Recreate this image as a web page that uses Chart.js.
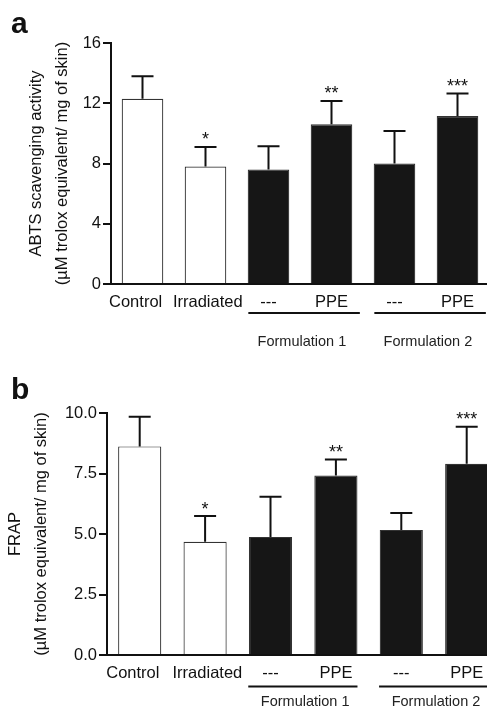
<!DOCTYPE html>
<html>
<head>
<meta charset="utf-8">
<script src="https://cdn.jsdelivr.net/npm/chart.js@4.4.1/dist/chart.umd.min.js"></script>
<style>
  html, body { margin: 0; padding: 0; overflow: hidden; background: #fff; width: 487px; height: 709px; }
  canvas { position: absolute; left: 0; }
  #panel-a { top: 0; }
  #panel-b { top: 355px; }
</style>
</head>
<body>
<canvas id="panel-a" width="490" height="355"></canvas>
<canvas id="panel-b" width="500" height="354"></canvas>
<script>
const categories = ['Control', 'Irradiated', '---', 'PPE', '---', 'PPE'];
const formulations = ['Formulation 1', 'Formulation 2'];
const formulationBars = [[2, 3], [4, 5]];

const abtsMean = [12.3, 7.8, 7.6, 10.6, 8.0, 11.15];
const abtsSem = [1.5, 1.3, 1.55, 1.55, 2.15, 1.5];
const abtsStars = ['', '*', '', '**', '', '***'];

const frapMean = [8.62, 4.68, 4.88, 7.42, 5.17, 7.9];
const frapSem = [1.23, 1.06, 1.66, 0.66, 0.7, 1.53];
const frapStars = ['', '*', '', '**', '', '***'];

const FONT = 'Liberation Sans, Arial, Helvetica, sans-serif';
const INK = '#111';

// the first two labels sit a little off their bars in the original
function labelText(i) {
  const t = categories[i];
  if (i === 0) return t + '   ';
  if (i === 1) return ' ' + t;
  return t;
}

function makePanel(id, means, sems, stars, cfg) {
  const extras = {
    id: 'extras',
    afterDatasetsDraw(chart) {
      const {ctx, chartArea, scales: {x, y}} = chart;
      const bars = chart.getDatasetMeta(0).data;
      ctx.save();
      ctx.strokeStyle = INK;
      ctx.fillStyle = INK;
      ctx.lineWidth = 2;
      // error bars (upper only) + significance stars
      bars.forEach((bar, i) => {
        const top = y.getPixelForValue(means[i] + sems[i]);
        ctx.beginPath();
        ctx.moveTo(bar.x, bar.y);
        ctx.lineTo(bar.x, top);
        ctx.moveTo(bar.x - 11, top);
        ctx.lineTo(bar.x + 11, top);
        ctx.stroke();
        if (stars[i]) {
          ctx.font = '18px ' + FONT;
          ctx.textAlign = 'center';
          ctx.textBaseline = 'alphabetic';
          ctx.fillText(stars[i], bar.x, top - 1.5);
        }
      });
      // formulation brackets
      formulationBars.forEach((pair, g) => {
        const x0 = x.getPixelForValue(pair[0] + cfg.bracket[0]);
        const x1 = x.getPixelForValue(pair[1] + cfg.bracket[1]);
        const ly = chartArea.bottom + cfg.lineGap;
        ctx.beginPath();
        ctx.moveTo(x0, ly);
        ctx.lineTo(x1, ly);
        ctx.stroke();
        ctx.font = '14.5px ' + FONT;
        ctx.textAlign = 'center';
        ctx.textBaseline = 'middle';
        ctx.fillStyle = '#222';
        ctx.fillText(formulations[g], x.getPixelForValue(pair[0] + 0.53), chartArea.bottom + cfg.textGap);
        ctx.fillStyle = INK;
      });
      // panel letter
      ctx.font = 'bold 30px ' + FONT;
      ctx.textAlign = 'left';
      ctx.textBaseline = 'alphabetic';
      ctx.fillText(cfg.letter, 11, cfg.letterY);
      ctx.restore();
    }
  };

  return new Chart(document.getElementById(id), {
    type: 'bar',
    data: {
      labels: categories,
      datasets: [{
        data: means,
        backgroundColor: c => c.dataIndex < 2 ? '#ffffff' : '#161616',
        borderColor: '#333',
        borderWidth: 1.2,
        barPercentage: 0.66,
        categoryPercentage: 1
      }]
    },
    options: {
      responsive: false,
      animation: false,
      devicePixelRatio: 1,
      layout: { padding: { top: cfg.top, right: cfg.right, left: 0, bottom: 0 } },
      plugins: { legend: { display: false }, tooltip: { enabled: false } },
      scales: {
        x: {
          afterFit: s => { s.height = cfg.xHeight; },
          grid: { display: false },
          border: { color: INK, width: 2 },
          ticks: {
            autoSkip: false, maxRotation: 0, padding: 1,
            color: INK, font: { family: FONT, size: 16.5 },
            callback: (v, i) => labelText(i)
          }
        },
        y: {
          min: 0, max: cfg.max,
          afterFit: s => { s.width = cfg.yWidth; },
          grid: { drawOnChartArea: false, drawTicks: true, tickLength: 8, color: INK, lineWidth: 2 },
          border: { color: INK, width: 2 },
          ticks: {
            stepSize: cfg.step, padding: 2, color: INK,
            font: { family: FONT, size: 16.5 },
            callback: v => cfg.decimals ? v.toFixed(cfg.decimals) : String(v)
          },
          title: {
            display: true, text: cfg.title, color: INK,
            font: { family: FONT, size: 16.5, lineHeight: 1.58 },
            padding: { top: cfg.titlePad, bottom: 0 }
          }
        }
      }
    },
    plugins: [extras]
  });
}

makePanel('panel-a', abtsMean, abtsSem, abtsStars, {
  letter: 'a', letterY: 33, top: 43, right: 1, xHeight: 71, yWidth: 111,
  max: 16, step: 4, decimals: 0, titlePad: 23,
  title: ['ABTS scavenging activity', '(\u00b5M trolox equivalent/ mg of skin)'],
  bracket: [-0.32, 0.45], lineGap: 29, textGap: 57.5
});

makePanel('panel-b', frapMean, frapSem, frapStars, {
  letter: 'b', letterY: 44, top: 58, right: 0.6, xHeight: 54, yWidth: 107,
  max: 10, step: 2.5, decimals: 1, titlePad: 2,
  title: ['FRAP', '(\u00b5M trolox equivalent/ mg of skin)'],
  bracket: [-0.34, 0.33], lineGap: 31.5, textGap: 46.5
});
</script>
</body>
</html>
